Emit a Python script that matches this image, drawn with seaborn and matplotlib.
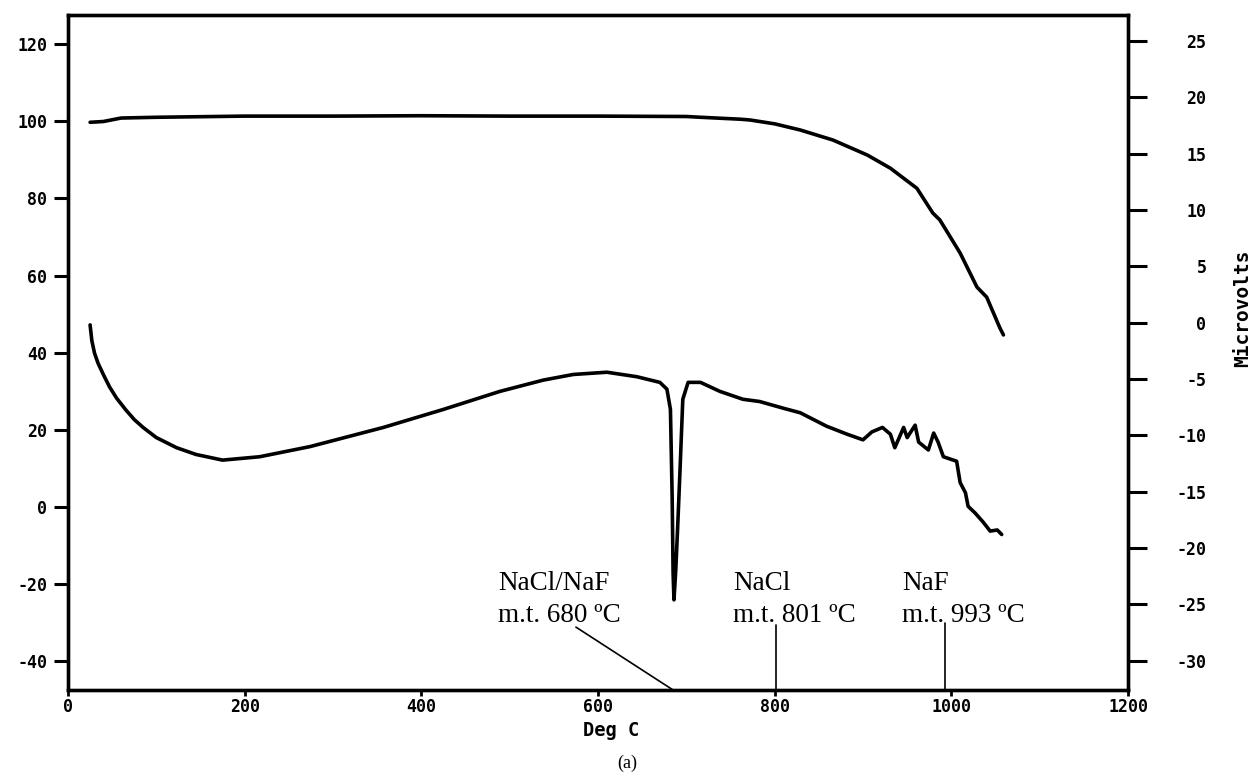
import matplotlib
matplotlib.use("Agg")
import matplotlib.pyplot as plt
import seaborn as sns
import pandas as pd

# ---- data ----
tg_temp = [25, 40, 60, 100, 200, 300, 400, 500, 600, 700, 716, 761, 772, 800, 829, 866, 905, 931, 961,
           979, 987, 1010, 1029, 1040, 1055, 1059]
tg_pct = [99.7, 99.9, 100.8, 101.0, 101.3, 101.3, 101.4, 101.3, 101.3, 101.2, 101.0, 100.5, 100.3, 99.3,
          97.7, 95.1, 91.2, 87.8, 82.6, 76.2, 74.4, 65.8, 57.0, 54.4, 46.4, 44.6]

dta_temp = [25, 27, 30, 34, 40, 47, 55, 65, 75, 85, 100, 123, 145, 175, 217, 274, 357, 425, 489, 538,
            572, 610, 644, 670, 678, 682, 684, 685, 686, 688, 690, 693, 696, 702, 716, 738, 764, 783,
            810, 829, 859, 882, 900, 910, 922, 931, 936, 946, 950, 959, 963, 974, 980, 985, 991, 1006,
            1010, 1016, 1019, 1027, 1036, 1044, 1052, 1057]
dta_uv = [-0.2, -1.6, -2.7, -3.6, -4.6, -5.7, -6.7, -7.7, -8.6, -9.3, -10.2, -11.1, -11.7, -12.2, -11.9,
          -11.0, -9.3, -7.7, -6.1, -5.1, -4.6, -4.4, -4.8, -5.3, -5.9, -7.7, -15.7, -22.2, -24.6, -22.0,
          -18.5, -12.8, -6.8, -5.3, -5.3, -6.1, -6.8, -7.0, -7.6, -8.0, -9.2, -9.9, -10.4, -9.7, -9.3,
          -9.9, -11.1, -9.3, -10.2, -9.1, -10.6, -11.3, -9.8, -10.6, -11.9, -12.3, -14.2, -15.1, -16.3,
          -16.9, -17.7, -18.5, -18.4, -18.8]

x_ticks = [0, 200, 400, 600, 800, 1000, 1200]
left_ticks = [-40, -20, 0, 20, 40, 60, 80, 100, 120]
right_ticks = [-30, -25, -20, -15, -10, -5, 0, 5, 10, 15, 20, 25]

annot_names = ["NaCl/NaF", "NaCl", "NaF"]
annot_mt = ["m.t. 680 \u00baC", "m.t. 801 \u00baC", "m.t. 993 \u00baC"]
annot_text_x = [487, 753, 944]
annot_line_top = [(575, -31.1), (801, -30.6), (993, -30.1)]
annot_line_bot = [685, 801, 993]

tg_df = pd.DataFrame({"temp": tg_temp, "pct": tg_pct})
dta_df = pd.DataFrame({"temp": dta_temp, "uv": dta_uv})

sns.set_theme(style="white")
plt.rcParams["font.family"] = ["DejaVu Sans Mono", "DejaVu Sans"]
plt.rcParams["axes.unicode_minus"] = False
plt.rcParams["text.color"] = "black"

W, H = 1255, 775
fig = plt.figure(figsize=(W / 100, H / 100), dpi=100)
ax = fig.add_axes([68 / W, 1 - 690 / H, (1128 - 68) / W, (690 - 15) / H])
ax2 = ax.twinx()

sns.lineplot(data=tg_df, x="temp", y="pct", ax=ax, color="black", lw=2.6, sort=False, estimator=None)
sns.lineplot(data=dta_df, x="temp", y="uv", ax=ax2, color="black", lw=2.6, sort=False, estimator=None)

ax.set_xlim(0, 1200)
ax.set_ylim(-47.4, 127.5)
ax2.set_ylim(-32.6, 27.3)
ax.set_xticks(x_ticks)
ax.set_yticks(left_ticks)
ax2.set_yticks(right_ticks)
ax.set_xlabel("")
ax.set_ylabel("")
ax2.set_ylabel("")

for a in (ax, ax2):
    for s in a.spines.values():
        s.set_linewidth(2.4)
        s.set_color("black")
        s.set_visible(True)

ax.tick_params(axis="y", direction="out", length=10, width=2.2, left=True, right=False,
               labelsize=12, pad=5, colors="black")
ax.tick_params(axis="x", direction="out", length=4, width=2.0, bottom=True, labelsize=12, pad=2,
               colors="black")
ax2.tick_params(axis="y", direction="out", length=13.5, width=2.2, right=True, left=False,
                labelsize=12, pad=43, colors="black")

for lab in ax.get_xticklabels() + ax.get_yticklabels():
    lab.set_fontweight("bold")
for lab in ax2.get_yticklabels():
    lab.set_fontweight("bold")
    lab.set_horizontalalignment("right")

# annotations
for name, mt, tx, (lx, ly), bx in zip(annot_names, annot_mt, annot_text_x, annot_line_top, annot_line_bot):
    ax.text(tx, -19.7, name, family="Liberation Serif", fontsize=19.5, ha="left", va="center", color="black")
    ax.text(tx, -28.0, mt, family="Liberation Serif", fontsize=19.5, ha="left", va="center", color="black")
    ax.plot([lx, bx], [ly, -47.4], color="black", lw=1.2)

fig.text(611 / W, 1 - 730 / H, "Deg C", fontsize=13.5, fontweight="bold", ha="center", va="center",
         color="black")
fig.text(1243 / W, 1 - 308 / H, "Microvolts", fontsize=14, fontweight="bold", rotation=90,
         ha="center", va="center", color="black")
fig.text(627 / W, 1 - 763 / H, "(a)", family="Liberation Serif", fontsize=13, ha="center", va="center",
         color="black")

fig.savefig("out.png", dpi=100, facecolor="white")
